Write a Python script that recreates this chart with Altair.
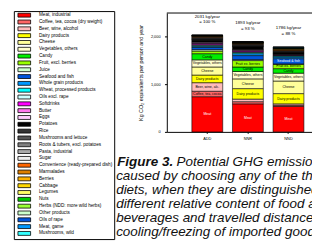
import altair as alt
import pandas as pd

categories = [
    "Meat, industrial", "Coffee, tea, cocoa (dry weight)", "Beer, wine, alcohol",
    "Dairy products", "Cheese", "Vegetables, others", "Candy", "Fruit, excl. berries",
    "Juice", "Seafood and fish", "Whole grain products", "Wheat, processed products",
    "Oils excl. rape", "Softdrinks", "Butter", "Eggs", "Potatoes", "Rice",
    "Mushrooms and lettuce", "Roots & tubers, excl. potatoes", "Pasta, industrial",
    "Sugar", "Convenience (ready-prepared dish)", "Marmalades", "Berries", "Cabbage",
    "Legumes", "Nuts", "Herbs (NDD: more wild herbs)", "Other products", "Oils of rape",
    "Meat, game", "Mushrooms, wild",
]
colors = [
    "#ff0000", "#ff6666", "#ffbbbb", "#ffff00", "#ffff99", "#ffffcc", "#00ee00", "#99ff00",
    "#ccffcc", "#0055dd", "#0099ff", "#00ffff", "#ccffff", "#ff00ff", "#ff77ee", "#ffccff",
    "#000000", "#333333", "#555555", "#808080", "#aaaaaa", "#eeeeee", "#ff6600", "#e08000",
    "#ffb000", "#ffd700", "#ffff66", "#00cc00", "#99ff33", "#ccffcc", "#0055dd", "#0099ff",
    "#33ffff",
]
diets = ["ADD", "NNR", "NND"]
add_vals = [740, 115, 180, 160, 170, 150, 130, 55, 30, 45, 25, 20, 15, 25, 15, 15, 40, 12,
            8, 12, 12, 15, 12, 8, 6, 6, 4, 4, 0, 2, 0, 0, 0]
nnr_vals = [590, 45, 55, 220, 205, 155, 95, 135, 20, 85, 40, 25, 15, 20, 15, 15, 58, 10,
            8, 12, 10, 12, 8, 6, 10, 6, 5, 5, 2, 4, 2, 0, 0]
nnd_vals = [535, 25, 30, 215, 265, 165, 95, 90, 10, 110, 35, 20, 10, 8, 10, 10, 30, 8,
            8, 10, 8, 8, 15, 12, 18, 6, 4, 4, 6, 4, 4, 5, 3]
totals = [2031, 1893, 1786]
total_line1 = ["2031 kg/year", "1893 kg/year", "1786 kg/year"]
total_line2 = ["= 100 %", "= 93 %", "= 88 %"]
y_ticks = [0, 500, 1000, 1500, 2000, 2500]

seg_labels = [
    ("ADD", "Meat, industrial", "Meat", "white"),
    ("ADD", "Coffee, tea, cocoa (dry weight)", "Coffee, tea, cocoa", "black"),
    ("ADD", "Beer, wine, alcohol", "Beer, wine, alc.", "black"),
    ("ADD", "Dairy products", "Dairy products", "black"),
    ("ADD", "Cheese", "Cheese", "black"),
    ("ADD", "Vegetables, others", "Vegetables, others", "black"),
    ("ADD", "Candy", "Candy", "black"),
    ("NNR", "Meat, industrial", "Meat", "white"),
    ("NNR", "Dairy products", "Dairy products", "black"),
    ("NNR", "Cheese", "Cheese", "black"),
    ("NNR", "Vegetables, others", "Vegetables, others", "black"),
    ("NNR", "Candy", "Candy", "black"),
    ("NNR", "Fruit, excl. berries", "Fruit ex. berries", "black"),
    ("NND", "Meat, industrial", "Meat", "white"),
    ("NND", "Dairy products", "Dairy products", "black"),
    ("NND", "Cheese", "Cheese", "black"),
    ("NND", "Vegetables, others", "Vegetables, others", "black"),
    ("NND", "Candy", "Candy", "black"),
    ("NND", "Fruit, excl. berries", "Fruit ex. berries", "black"),
    ("NND", "Seafood and fish", "Seafood & fish", "white"),
]

cap_head = "Figure 3."
cap_first = "Potential GHG emissions"
cap_rest = [
    "caused by choosing any of the three",
    "diets, when they are distinguished by",
    "different relative content of food and",
    "beverages and travelled distances and",
    "cooling/freezing of imported goods.",
]

FONT = "Liberation Sans"

rows = []
for diet, vals in zip(diets, [add_vals, nnr_vals, nnd_vals]):
    cum = 0
    for cat, v in zip(categories, vals):
        rows.append(dict(diet=diet, category=cat, start=cum, end=cum + v, mid=cum + v / 2))
        cum += v
df = pd.DataFrame(rows)
mids = {(r["diet"], r["category"]): r["mid"] for r in rows}
lab_df = pd.DataFrame([
    dict(diet=d, label=t, mid=mids[(d, c)], tc=col) for d, c, t, col in seg_labels
])
tot_df = pd.DataFrame(dict(diet=diets, total=totals, l1=total_line1, l2=total_line2))

xscale = alt.Scale(domain=diets, paddingInner=0.24, paddingOuter=0.408, align=0.756)
yscale = alt.Scale(domain=[0, 2500], nice=False)

legend = alt.Legend(
    orient="none", legendX=-157, legendY=-2, title=None,
    symbolType="M-3.25,-1H3.25V1H-3.25Z", symbolSize=16, symbolOffset=6.5,
    symbolStrokeColor="black", symbolStrokeWidth=0.8, symbolOpacity=1, symbolLimit=40,
    labelFontSize=4.8, labelFont=FONT, labelColor="black", labelOffset=12.6,
    labelExpr="datum.label + '\u00a0\u00a0\u00a0'",
    labelLimit=300, rowPadding=-2.72, padding=1.7,
    strokeColor="black", fillColor="white",
)

bars = alt.Chart(df).mark_bar(stroke="black", strokeWidth=0.6).encode(
    x=alt.X("diet:N", scale=xscale, sort=diets,
            axis=alt.Axis(title=None, labelAngle=0, labelFontSize=4, labelFont=FONT,
                          tickSize=1.5, labelPadding=3, domainColor="black",
                          tickColor="black", labelColor="black")),
    y=alt.Y("start:Q", scale=yscale,
            axis=alt.Axis(values=y_ticks, title="Kg CO\u2082 equivalents per person and year",
                          titleFontSize=5.5, titleFont=FONT, titleFontWeight="normal",
                          titleColor="black", titlePadding=7, labelFontSize=4,
                          labelFont=FONT, labelColor="black", tickSize=2.4,
                          labelPadding=4.5, domainColor="black", tickColor="black",
                          grid=False)),
    y2="end:Q",
    color=alt.Color("category:N", scale=alt.Scale(domain=categories, range=colors),
                    legend=legend),
)

top_rule = alt.Chart(pd.DataFrame({"v": [2500]})).mark_rule(color="black", strokeWidth=1).encode(
    y=alt.Y("v:Q", scale=yscale)
)

lab_black = alt.Chart(lab_df[lab_df.tc == "black"]).mark_text(
    font=FONT, fontSize=3.6, color="black"
).encode(x=alt.X("diet:N", scale=xscale, sort=diets), y=alt.Y("mid:Q", scale=yscale), text="label:N")
lab_white = alt.Chart(lab_df[lab_df.tc == "white"]).mark_text(
    font=FONT, fontSize=3.6, color="white"
).encode(x=alt.X("diet:N", scale=xscale, sort=diets), y=alt.Y("mid:Q", scale=yscale), text="label:N")

tot1 = alt.Chart(tot_df).mark_text(font=FONT, fontSize=4.5, color="black", dy=-19).encode(
    x=alt.X("diet:N", scale=xscale, sort=diets), y=alt.Y("total:Q", scale=yscale), text="l1:N")
tot2 = alt.Chart(tot_df).mark_text(font=FONT, fontSize=4.5, color="black", dy=-13.5).encode(
    x=alt.X("diet:N", scale=xscale, sort=diets), y=alt.Y("total:Q", scale=yscale), text="l2:N")

cap1 = alt.Chart(pd.DataFrame({"t": [cap_head]})).mark_text(
    font=FONT, fontSize=13.8, fontStyle="italic", fontWeight="bold", align="left",
    baseline="alphabetic", color="#111111"
).encode(text="t:N", x=alt.value(-51), y=alt.value(156.5))
cap2 = alt.Chart(pd.DataFrame({"t": [cap_first]})).mark_text(
    font=FONT, fontSize=13.8, fontStyle="italic", align="left",
    baseline="alphabetic", color="#111111"
).encode(text="t:N", x=alt.value(10), y=alt.value(156.5))
cap3 = alt.Chart(pd.DataFrame({"t": ["\n".join(cap_rest)]})).mark_text(
    font=FONT, fontSize=13.8, fontStyle="italic", align="left", lineBreak="\n",
    lineHeight=14.5, baseline="alphabetic", color="#111111"
).encode(text="t:N", x=alt.value(-52), y=alt.value(171))

chart = alt.layer(bars, top_rule, lab_black, lab_white, tot1, tot2, cap1, cap2, cap3).properties(
    width=149, height=122,
    padding={"left": 163, "top": 2, "right": 0, "bottom": 116},
    autosize=alt.AutoSizeParams(type="none"),
).configure_view(stroke=None)

chart.save("out.html", embed_options={"renderer": "svg", "actions": False})
